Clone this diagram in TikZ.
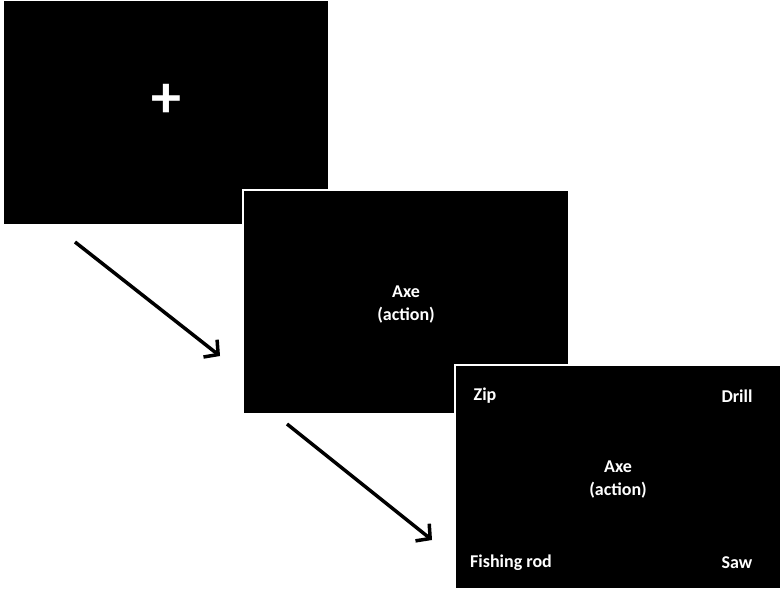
\documentclass[tikz,border=0pt]{standalone}
\usepackage{fontspec}
\setmainfont{Carlito}
\usetikzlibrary{arrows.meta,positioning}
\tikzset{
  screen/.style={fill=black, draw=white, line width=2pt, minimum width=326pt,
    minimum height=224pt, inner sep=0pt},
  word/.style={text=white, font=\fontsize{18}{23}\selectfont\bfseries, align=center},
  nextarrow/.style={-{Straight Barb[length=10pt,width=22pt]}, line width=3.5pt, black}
}
\begin{document}
\begin{tikzpicture}[x=1pt, y=-1pt]
  \useasboundingbox (0,0) rectangle (783,593);
  % screens
  \node[screen, minimum height=225pt] (fixscreen) at (166,112.5) {};
  \node[screen] (cuescreen) at (406,302) {};
  \node[screen] (choicescreen) at (618,477) {};
  % fixation cross
  \node[text=white, font=\fontsize{60}{60}\selectfont\bfseries] (cross) at (166,101) {+};
  % cue
  \node[word] (cue) at (406,305) {Axe\\(action)};
  % choice
  \node[word] (target) at (618,480) {Axe\\(action)};
  \node[word] (zip) at (485,396) {Zip};
  \node[word] (drill) at (737,396) {Drill};
  \node[word] (rod) at (511,563) {Fishing rod};
  \node[word] (saw) at (737,563) {Saw};
  % arrows
  \coordinate (a1from) at (75,242);
  \coordinate (a1to) at (220,356);
  \coordinate (a2from) at (287,424);
  \coordinate (a2to) at (432,540);
  \draw[nextarrow] (a1from) -- (a1to);
  \draw[nextarrow] (a2from) -- (a2to);
\end{tikzpicture}
\end{document}
